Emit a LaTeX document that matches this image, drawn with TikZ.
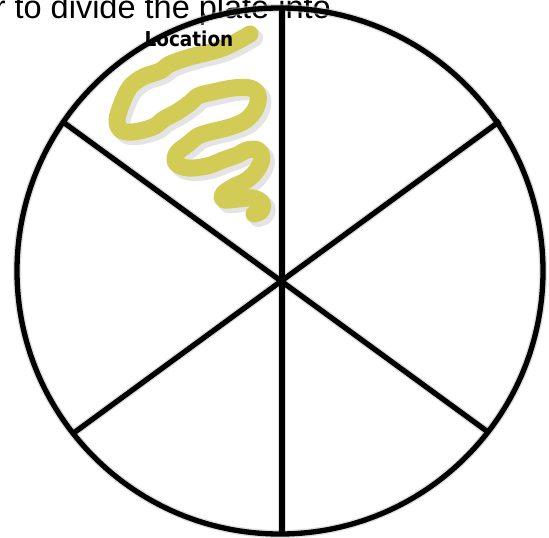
\documentclass[tikz,border=0pt]{standalone}
\usepackage{fontspec}
\setmainfont{Liberation Sans}
\newfontfamily\comicfont{DejaVu Sans Condensed}[BoldFont={DejaVu Sans Condensed Bold}]
\definecolor{squig}{RGB}{210,203,85}
\begin{document}
\begin{tikzpicture}[x=1pt,y=-1pt,
  plate/.style={line width=5.3pt,black},
  shade/.style={line width=8pt,black!25,opacity=0.5},
  squigline/.style={line width=17pt,squig,line cap=round,line join=round},
  squigshade/.style={line width=18pt,black!30,opacity=0.35,line cap=round,line join=round}]
\useasboundingbox (0,0) rectangle (549,538);
\fill[white] (0,0) rectangle (549,538);
% heading text (cut at the page edge)
\node[anchor=base east,inner sep=0pt,font=\fontsize{32.5}{32.5}\selectfont] (head) at (331,18) {r to divide the plate into};
% named points
\coordinate (c) at (282,280);
\coordinate (t) at (282,8);
\coordinate (b) at (282,533);
\coordinate (ul) at (63,122);
\coordinate (ur) at (500,121);
\coordinate (ll) at (75,432);
\coordinate (lr) at (488,432);
\coordinate (pc) at (280,271);
% shadows
\begin{scope}[shift={(3,3)}]
\draw[shade] (pc) circle[radius=263];
\draw[shade] (t) -- (b);
\draw[shade] (ul) -- (lr);
\draw[shade] (ur) -- (ll);
\end{scope}
% squiggle shadow
\draw[squigshade,shift={(4,4)}] plot[smooth,tension=0.6] coordinates {
(250,34) (223,48) (190,57) (170,64) (160,71) (143,77) (130,87) (122,103) (117,120) (121,130) (133,132) (153,127) (164,119) (177,112) (190,103) (198,96) (213,92) (233,88) (250,88) (258,95) (256,108) (246,120) (230,127) (210,132) (198,136) (188,144) (177,153) (176,163) (188,168) (207,166) (223,160) (237,155) (247,150) (258,150) (262,158) (257,170) (247,180) (233,187) (223,194) (224,200) (238,199) (253,198) (262,203) (261,211) (254,214)};
% plate
\draw[plate] (pc) circle[radius=263];
\draw[plate] (t) -- (b);
\draw[plate] (ul) -- (lr);
\draw[plate] (ur) -- (ll);
% squiggle
\draw[squigline] plot[smooth,tension=0.6] coordinates {
(250,34) (223,48) (190,57) (170,64) (160,71) (143,77) (130,87) (122,103) (117,120) (121,130) (133,132) (153,127) (164,119) (177,112) (190,103) (198,96) (213,92) (233,88) (250,88) (258,95) (256,108) (246,120) (230,127) (210,132) (198,136) (188,144) (177,153) (176,163) (188,168) (207,166) (223,160) (237,155) (247,150) (258,150) (262,158) (257,170) (247,180) (233,187) (223,194) (224,200) (238,199) (253,198) (262,203) (261,211) (254,214)};
% label
\node[inner sep=0pt,anchor=base,font=\comicfont\bfseries\fontsize{20.5}{20.5}\selectfont] (loc) at (189,46) {Location};
\end{tikzpicture}
\end{document}
